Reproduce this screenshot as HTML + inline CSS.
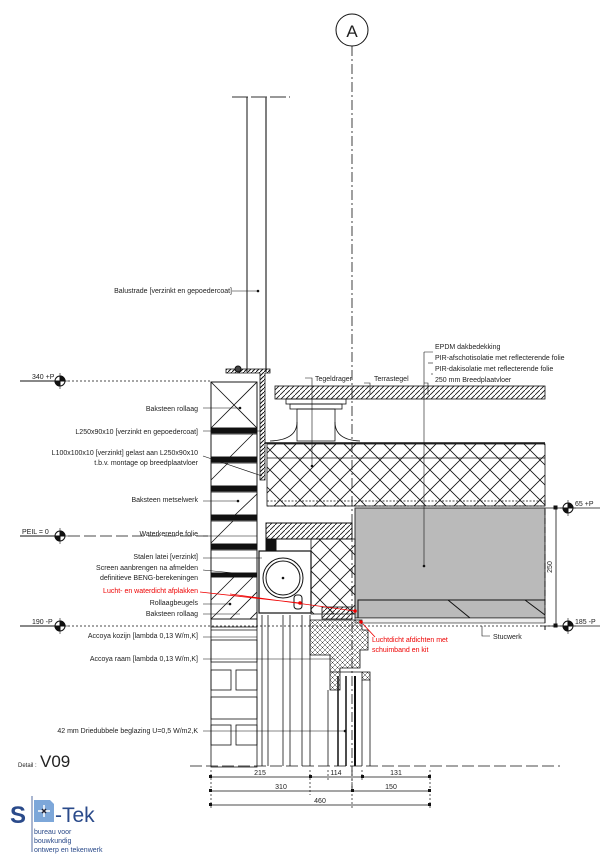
<!DOCTYPE html>
<html><head><meta charset="utf-8"><style>
html,body{margin:0;padding:0;background:#fff}
svg{display:block}
text{font-family:"Liberation Sans",sans-serif;font-size:7px;fill:#222}
</style></head><body>
<svg width="607" height="860" viewBox="0 0 607 860" xmlns="http://www.w3.org/2000/svg">
<defs>
<pattern id="x" width="20" height="20" patternUnits="userSpaceOnUse"><path d="M0 0L20 20M20 0L0 20" stroke="#111" stroke-width="0.8"/></pattern>
<pattern id="h" width="5" height="5" patternUnits="userSpaceOnUse"><path d="M0 5L5 0" stroke="#111" stroke-width="0.8"/></pattern>
<pattern id="hd" width="4" height="4" patternUnits="userSpaceOnUse"><path d="M0 4L4 0" stroke="#111" stroke-width="1"/></pattern>
<pattern id="cx" width="5" height="5" patternUnits="userSpaceOnUse"><path d="M0 0L5 5M5 0L0 5" stroke="#333" stroke-width="0.5"/></pattern>
</defs>
<g fill="none" stroke="#111" stroke-width="1">
<circle cx="352" cy="30" r="16"/>
<line x1="352" y1="46" x2="352" y2="790" stroke-dasharray="10,3,2,3" stroke-width="0.8"/>
<line x1="232" y1="97" x2="290" y2="97" stroke="#777" stroke-width="1.5" stroke-dasharray="16,3"/>
<line x1="247" y1="97" x2="247" y2="372"/>
<line x1="266" y1="97" x2="266" y2="372" stroke="#555" stroke-width="1.5"/>
<line x1="232" y1="291" x2="258" y2="291" stroke-width="0.6"/>
<line x1="20" y1="381" x2="210" y2="381" stroke-dasharray="2,2" stroke-width="0.8"/>
<line x1="20" y1="381" x2="60" y2="381"/>
<line x1="20" y1="536" x2="210" y2="536" stroke-dasharray="12,4" stroke-width="0.8"/>
<line x1="20" y1="536" x2="60" y2="536"/>
<line x1="20" y1="626" x2="560" y2="626" stroke-dasharray="2,2" stroke-width="0.8"/>
<line x1="20" y1="626" x2="60" y2="626"/>
<line x1="540" y1="508" x2="600" y2="508" stroke-width="0.8"/>
<line x1="540" y1="626" x2="600" y2="626" stroke-width="0.8"/>
<line x1="190" y1="766" x2="560" y2="766" stroke-dasharray="12,4" stroke-width="0.8"/>
<rect x="211" y="382" width="46" height="385" stroke-width="0.8"/>
<g stroke-width="0.8">
<rect x="211" y="382" width="46" height="46"/><path d="M211 382L257 428M257 382L211 428"/>
<rect x="211" y="428" width="46" height="5" fill="#111"/>
<rect x="211" y="434" width="46" height="23"/><path d="M230 457L253 434"/>
<rect x="211" y="457" width="46" height="5" fill="#111"/>
<rect x="211" y="463" width="46" height="23"/><path d="M211 480L228 463"/>
<rect x="211" y="486" width="46" height="5" fill="#111"/>
<rect x="211" y="492" width="46" height="23"/><path d="M235 515L257 494"/>
<rect x="211" y="515" width="46" height="5" fill="#111"/>
<rect x="211" y="521" width="46" height="23"/><path d="M211 543L233 521"/>
<rect x="211" y="544" width="46" height="5" fill="#111"/>
<rect x="211" y="550" width="46" height="23"/>
<rect x="211" y="573" width="46" height="4" fill="#111"/>
<rect x="211" y="577" width="46" height="42"/><path d="M211 600L234 577M211 619L253 577M230 619L257 592M250 619L257 612"/>
<rect x="211" y="619" width="46" height="8"/>
</g>
<g stroke-width="0.8">
<line x1="211" y1="630" x2="257" y2="630"/>
<rect x="211" y="640" width="46" height="22"/><rect x="211" y="670" width="20" height="20"/><rect x="236" y="670" width="21" height="20"/>
<rect x="211" y="697" width="46" height="22"/><rect x="211" y="725" width="20" height="20"/><rect x="236" y="725" width="21" height="20"/>
</g>
<path d="M226 369H270V373H265V480H260V373H226Z" fill="url(#hd)" stroke-width="0.8"/>
<circle cx="238" cy="369" r="3" fill="#444"/>
<rect x="275" y="386" width="270" height="13" fill="url(#h)" stroke-width="0.8"/>
<rect x="286" y="399" width="60" height="5" stroke-width="0.8"/>
<rect x="290" y="404" width="52" height="5" stroke-width="0.8"/>
<rect x="297" y="409" width="38" height="32" stroke-width="0.8"/>
<path d="M270 441Q297 440 297 422M335 422Q335 440 360 441" stroke-width="0.8"/>
<line x1="265" y1="443" x2="545" y2="443" stroke-width="1.5"/>
<rect x="267" y="444" width="278" height="62" fill="url(#x)" stroke-width="0.8"/>
<line x1="267" y1="458" x2="545" y2="458" stroke-width="0.8"/>
<line x1="267" y1="501" x2="545" y2="501" stroke-dasharray="2,1.5" stroke-width="0.8"/>
<line x1="267" y1="506" x2="545" y2="506" stroke-dasharray="2,1.5" stroke-width="0.8"/>
<rect x="355" y="508" width="190" height="110" fill="#bababa" stroke="#333" stroke-width="1"/>
<path d="M358 618V600H545M448 600L470 618M525 600L545 615" stroke-width="1"/>
<rect x="355" y="618" width="190" height="5" fill="#eee" stroke-width="0.6"/>
<line x1="545" y1="500" x2="545" y2="630" stroke-dasharray="6,3" stroke-width="1"/>
<rect x="266" y="523" width="86" height="16" fill="url(#h)" stroke-width="1"/>
<rect x="266" y="539" width="10" height="12" fill="#111"/>
<rect x="311" y="539" width="44" height="75" fill="url(#x)" stroke-width="0.8"/>
<rect x="259" y="551" width="52" height="62" stroke-width="1.2"/>
<circle cx="283" cy="578" r="20"/><circle cx="283" cy="578" r="17"/>
<rect x="294" y="595" width="8" height="14" rx="3"/>
<rect x="322" y="607" width="30" height="12" fill="url(#h)" stroke-width="0.8"/>
<path d="M310 620H362V630H368V650H360V668H340V690H330V655H310Z" fill="url(#cx)" stroke-width="0.8"/>
<path d="M330 672H370V680H362V672" fill="url(#cx)" stroke-width="0.8"/>
<line x1="262" y1="615" x2="262" y2="766" stroke-width="0.8"/>
<line x1="268" y1="615" x2="268" y2="766" stroke-width="0.8"/>
<line x1="283" y1="615" x2="283" y2="766" stroke-width="0.8"/>
<line x1="290" y1="615" x2="290" y2="766" stroke-width="0.8"/>
<line x1="302" y1="615" x2="302" y2="766" stroke-width="0.8"/>
<line x1="310" y1="615" x2="310" y2="766" stroke-width="0.8"/>
<line x1="328" y1="690" x2="328" y2="766" stroke-width="0.8"/>
<line x1="338" y1="676" x2="338" y2="766" stroke-width="1.5"/>
<line x1="346" y1="676" x2="346" y2="766" stroke-width="1.5"/>
<line x1="355" y1="676" x2="355" y2="766" stroke-width="2"/>
<line x1="362" y1="680" x2="362" y2="766" stroke-width="0.8"/>
<line x1="370" y1="680" x2="370" y2="766" stroke-width="0.8"/>
<g stroke-width="0.6">
<path d="M203 408H240"/><path d="M203 431H262"/><path d="M203 456L262 476"/><path d="M203 501H238"/>
<path d="M203 536H257"/><path d="M203 558H262"/><path d="M203 570L255 575"/><path d="M203 604H230"/><path d="M203 614H240"/>
<path d="M203 637H257"/><path d="M203 659H335"/><path d="M203 731H345"/>
</g>
<path d="M200 592L300 603M230 594L355 611" stroke="#e00" stroke-width="0.8"/>
<path d="M363 624L375 637" stroke="#e00" stroke-width="0.8"/>
<g stroke-width="0.6">
<path d="M424 352H433M424 352V566"/><path d="M428 363H433"/><path d="M431 374H433"/>
<path d="M305 378H312V466"/><path d="M364 383H370V395"/><path d="M424 383H428V395"/>
<path d="M482 626V636H490"/>
</g>
<g>
<circle cx="60" cy="381" r="5" fill="#fff"/><path d="M60 376A5 5 0 0 1 65 381H60ZM60 386A5 5 0 0 1 55 381H60Z" fill="#111"/><path d="M60 373V389M52 381H68" stroke-width="0.6"/>
<circle cx="60" cy="536" r="5" fill="#fff"/><path d="M60 531A5 5 0 0 1 65 536H60ZM60 541A5 5 0 0 1 55 536H60Z" fill="#111"/><path d="M60 528V544M52 536H68" stroke-width="0.6"/>
<circle cx="60" cy="626" r="5" fill="#fff"/><path d="M60 621A5 5 0 0 1 65 626H60ZM60 631A5 5 0 0 1 55 626H60Z" fill="#111"/><path d="M60 618V634M52 626H68" stroke-width="0.6"/>
<circle cx="568" cy="508" r="5" fill="#fff"/><path d="M568 503A5 5 0 0 1 573 508H568ZM568 513A5 5 0 0 1 563 508H568Z" fill="#111"/><path d="M568 500V516M560 508H576" stroke-width="0.6"/>
<circle cx="568" cy="626" r="5" fill="#fff"/><path d="M568 621A5 5 0 0 1 573 626H568ZM568 631A5 5 0 0 1 563 626H568Z" fill="#111"/><path d="M568 618V634M560 626H576" stroke-width="0.6"/>
</g>
<path d="M556 508V626" stroke-width="0.8"/>
<rect x="554" y="506" width="3" height="3" fill="#111"/><rect x="554" y="624" width="3" height="3" fill="#111"/>
<g stroke-width="0.7">
<path d="M211 777H430M211 791H430M211 805H430"/>
<path d="M211 770V810M310 770V795M328 770V781M352 770V810M362 770V781M430 770V810" stroke-dasharray="2,2"/>
</g>
<g fill="#111" stroke="none">
<rect x="209" y="775" width="3" height="3"/><rect x="309" y="775" width="3" height="3"/><rect x="361" y="775" width="3" height="3"/><rect x="428" y="775" width="3" height="3"/>
<rect x="209" y="789" width="3" height="3"/><rect x="351" y="789" width="3" height="3"/><rect x="428" y="789" width="3" height="3"/>
<rect x="209" y="803" width="3" height="3"/><rect x="428" y="803" width="3" height="3"/>
</g>
<path d="M34 800H50L54 804V822H34Z" fill="#7da7d9" stroke="none"/>
<path d="M38 811H50M44 805V817" stroke="#fff" stroke-width="1.5"/>
<path d="M42 809L46 813M46 809L42 813" stroke="#223" stroke-width="1.5"/>
<line x1="32" y1="796" x2="32" y2="852" stroke="#2a4a8a" stroke-width="0.8"/>
</g>
<g fill="#111" stroke="none">
<circle cx="258" cy="291" r="1.3"/><circle cx="240" cy="408" r="1.3"/><circle cx="238" cy="501" r="1.3"/><circle cx="230" cy="604" r="1.3"/>
<circle cx="312" cy="466" r="1.3"/><circle cx="424" cy="566" r="1.3"/><circle cx="345" cy="731" r="1.3"/><circle cx="283" cy="578" r="1.3"/>
<circle cx="300" cy="603" r="1.8" fill="#e00"/><circle cx="355" cy="611" r="1.8" fill="#e00"/><circle cx="361" cy="622" r="1.8" fill="#e00"/>
</g>
<text x="352" y="37" text-anchor="middle" style="font-size:17px">A</text>
<text x="232" y="293" text-anchor="end">Balustrade [verzinkt en gepoedercoat]</text>
<text x="32" y="379">340 +P</text>
<text x="22" y="534">PEIL = 0</text>
<text x="32" y="624">190 -P</text>
<text x="575" y="506">65 +P</text>
<text x="575" y="624">185 -P</text>
<text transform="translate(552,567) rotate(-90)" text-anchor="middle">250</text>
<g text-anchor="end">
<text x="198" y="411">Baksteen rollaag</text>
<text x="198" y="434">L250x90x10 [verzinkt en gepoedercoat]</text>
<text x="198" y="455">L100x100x10 [verzinkt] gelast aan L250x90x10</text>
<text x="198" y="465">t.b.v. montage op breedplaatvloer</text>
<text x="198" y="502">Baksteen metselwerk</text>
<text x="198" y="536">Waterkerende folie</text>
<text x="198" y="559">Stalen latei [verzinkt]</text>
<text x="198" y="570">Screen aanbrengen na afmelden</text>
<text x="198" y="580">definitieve BENG-berekeningen</text>
<text x="198" y="593" style="fill:#e00">Lucht- en waterdicht afplakken</text>
<text x="198" y="605">Rollaagbeugels</text>
<text x="198" y="616">Baksteen rollaag</text>
<text x="198" y="638">Accoya kozijn [lambda 0,13 W/m,K]</text>
<text x="198" y="661">Accoya raam [lambda 0,13 W/m,K]</text>
<text x="198" y="733">42 mm Driedubbele beglazing U=0,5 W/m2,K</text>
</g>
<text x="435" y="349">EPDM dakbedekking</text>
<text x="435" y="360">PIR-afschotisolatie met reflecterende folie</text>
<text x="435" y="371">PIR-dakisolatie met reflecterende folie</text>
<text x="435" y="382">250 mm Breedplaatvloer</text>
<text x="315" y="381">Tegeldrager</text>
<text x="374" y="381">Terrastegel</text>
<text x="493" y="639">Stucwerk</text>
<text x="372" y="642" style="fill:#e00">Luchtdicht afdichten met</text>
<text x="372" y="652" style="fill:#e00">schuimband en kit</text>
<text x="260" y="775" text-anchor="middle">215</text>
<text x="336" y="775" text-anchor="middle">114</text>
<text x="396" y="775" text-anchor="middle">131</text>
<text x="281" y="789" text-anchor="middle">310</text>
<text x="391" y="789" text-anchor="middle">150</text>
<text x="320" y="803" text-anchor="middle">460</text>
<text x="18" y="767" style="font-size:6px">Detail :</text>
<text x="40" y="767" style="font-size:17px">V09</text>
<text x="10" y="823" style="font-size:24px;font-weight:bold;fill:#2a4a8a">S</text>
<text x="55" y="822" style="font-size:21px;fill:#2a4a8a">-Tek</text>
<text x="34" y="834" style="font-size:7px;fill:#2a4a8a">bureau voor</text>
<text x="34" y="843" style="font-size:7px;fill:#2a4a8a">bouwkundig</text>
<text x="34" y="852" style="font-size:7px;fill:#2a4a8a">ontwerp en tekenwerk</text>
</svg>
</body></html>
